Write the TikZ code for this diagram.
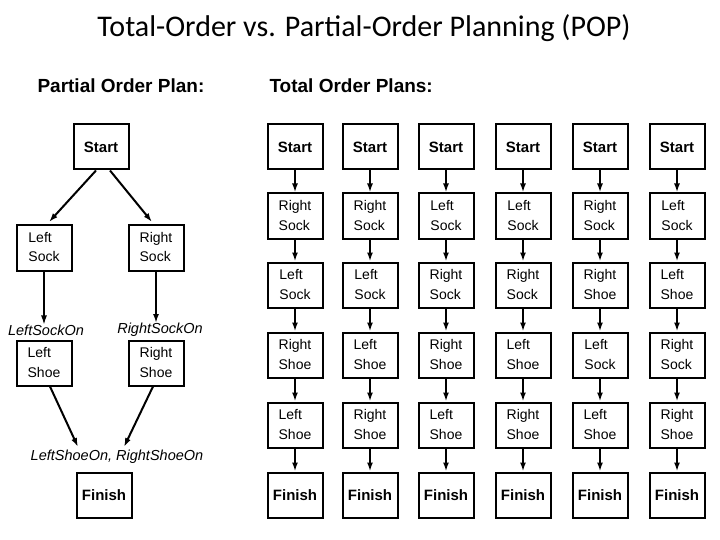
\documentclass[tikz,border=0pt]{standalone}
\usepackage{fontspec}
\setmainfont{Liberation Sans}
\newfontfamily\titlefont{Carlito}
\usetikzlibrary{arrows.meta}
\newcommand{\twol}[2]{\strut#1\\\strut#2}
\begin{document}
\begin{tikzpicture}[x=1pt,y=-1pt,
  box/.style={draw,line width=2pt,minimum width=55pt,minimum height=45pt,inner sep=1pt,align=left,font=\fontsize{14}{20}\selectfont},
  bbox/.style={box,font=\fontsize{15}{17}\selectfont\bfseries},
  arr/.style={-{Latex[length=9pt,width=6pt]},line width=2pt},
  lab/.style={font=\fontsize{14.5}{16}\selectfont\itshape,inner sep=0pt}]
\useasboundingbox (0,0) rectangle (720,540);
\node[font=\titlefont\fontsize{30}{34}\selectfont] (title) at (364,28) {Total-Order vs. Partial-Order Planning (POP)};
\node[font=\fontsize{19}{22}\selectfont\bfseries,anchor=west] (h1) at (34,86) {Partial Order Plan:};
\node[font=\fontsize{19}{22}\selectfont\bfseries,anchor=west] (h2) at (266,86) {Total Order Plans:};
% partial order
\node[bbox] (ps) at (101,147) {Start};
\node[box] (pls) at (44,248) {\twol{Left}{Sock}};
\node[box] (prs) at (156,248) {\twol{Right}{Sock}};
\node[box] (plh) at (44,363) {\twol{Left}{Shoe}};
\node[box] (prh) at (156,363) {\twol{Right}{Shoe}};
\node[bbox] (pf) at (104,495) {Finish};
\node[lab] (l1) at (46,330) {LeftSockOn};
\node[lab] (l2) at (160,330) {RightSockOn};
\node[lab] (l3) at (117,457) {LeftShoeOn, RightShoeOn};
\coordinate (c1) at (49,222);
\coordinate (c2) at (152,222);
\draw[arr] (ps.south)++(-5,0) -- (c1);
\draw[arr] (ps.south)++(9,0) -- (c2);
\draw[arr,line width=1.2pt] (pls.south) -- (l1.north -| pls.south);
\draw[arr] (prs.south) -- (l2.north -| prs.south);
\coordinate (c3) at (78,447);
\coordinate (c4) at (124,447);
\draw[arr] (plh.south)++(6,0) -- (c3);
\draw[arr] (prh.south)++(-3,0) -- (c4);
% total orders
\foreach \i/\x/\a/\b/\c/\d in {
  1/295/{\twol{Right}{Sock}}/{\twol{Left}{Sock}}/{\twol{Right}{Shoe}}/{\twol{Left}{Shoe}},
  2/370/{\twol{Right}{Sock}}/{\twol{Left}{Sock}}/{\twol{Left}{Shoe}}/{\twol{Right}{Shoe}},
  3/446/{\twol{Left}{Sock}}/{\twol{Right}{Sock}}/{\twol{Right}{Shoe}}/{\twol{Left}{Shoe}},
  4/523/{\twol{Left}{Sock}}/{\twol{Right}{Sock}}/{\twol{Left}{Shoe}}/{\twol{Right}{Shoe}},
  5/600/{\twol{Right}{Sock}}/{\twol{Right}{Shoe}}/{\twol{Left}{Sock}}/{\twol{Left}{Shoe}},
  6/677/{\twol{Left}{Sock}}/{\twol{Left}{Shoe}}/{\twol{Right}{Sock}}/{\twol{Right}{Shoe}}}{
  \node[bbox] (t\i s) at (\x,147) {Start};
  \node[box] (t\i a) at (\x,216) {\a};
  \node[box] (t\i b) at (\x,285) {\b};
  \node[box] (t\i c) at (\x,355) {\c};
  \node[box] (t\i d) at (\x,425) {\d};
  \node[bbox] (t\i f) at (\x,495) {Finish};
  \draw[arr] (t\i s) -- (t\i a);
  \draw[arr] (t\i a) -- (t\i b);
  \draw[arr] (t\i b) -- (t\i c);
  \draw[arr] (t\i c) -- (t\i d);
  \draw[arr] (t\i d) -- (t\i f);
}
\end{tikzpicture}
\end{document}
